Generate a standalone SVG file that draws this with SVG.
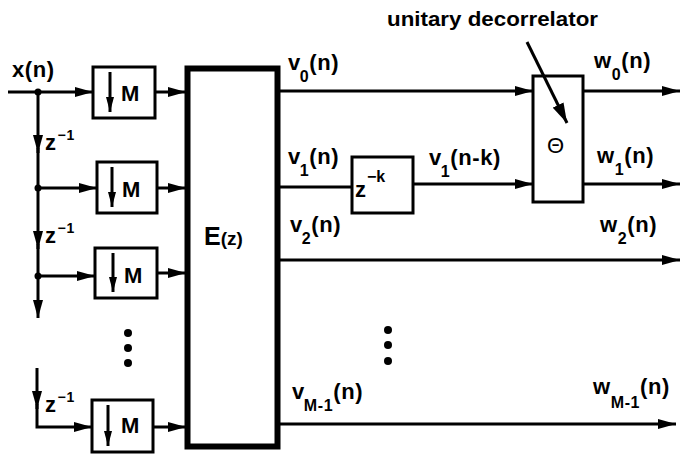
<svg xmlns="http://www.w3.org/2000/svg" width="681" height="455" viewBox="0 0 681 455">
<style>
.l{fill:none;stroke:#000;stroke-width:3}
.b{fill:#fff;stroke:#000;stroke-width:3}
text{font-family:"Liberation Sans",Arial,sans-serif;font-weight:bold;fill:#000}
.t{font-size:22px;letter-spacing:0.6px}
.s{font-size:16px}
.p{font-size:14px}
</style>
<defs>
<marker id="a" markerUnits="userSpaceOnUse" markerWidth="18" markerHeight="10" refX="18" refY="5" orient="auto"><path d="M0,0 L18,5 L0,10 z" fill="#000"/></marker>
<marker id="d" markerUnits="userSpaceOnUse" markerWidth="15" markerHeight="8" refX="15" refY="4" orient="auto"><path d="M0,0 L15,4 L0,8 z" fill="#000"/></marker>
<marker id="k" markerUnits="userSpaceOnUse" markerWidth="20" markerHeight="12" refX="20" refY="6" orient="auto"><path d="M0,0 L20,6 L0,12 z" fill="#000"/></marker>
</defs>
<rect width="681" height="455" fill="#fff"/>
<g id="connectors">
<path class="l" d="M8,92 H93" marker-end="url(#a)"/>
<path class="l" d="M38,92 V153" marker-end="url(#a)"/>
<path class="l" d="M38,148 V188"/>
<path class="l" d="M38,188 H97" marker-end="url(#a)"/>
<path class="l" d="M38,188 V249" marker-end="url(#a)"/>
<path class="l" d="M38,244 V276"/>
<path class="l" d="M38,276 H95" marker-end="url(#a)"/>
<path class="l" d="M38,276 V318" marker-end="url(#a)"/>
<path class="l" d="M37,368 V409" marker-end="url(#a)"/>
<path class="l" d="M37,404 V427 H92" marker-end="url(#a)"/>
<path class="l" d="M155,92 H186" marker-end="url(#a)"/>
<path class="l" d="M157,188 H186" marker-end="url(#a)"/>
<path class="l" d="M157,273 H186" marker-end="url(#a)"/>
<path class="l" d="M153,427 H186" marker-end="url(#a)"/>
<path class="l" d="M280,91 H533" marker-end="url(#a)"/>
<path class="l" d="M280,187 H352"/>
<path class="l" d="M413,184 H533" marker-end="url(#a)"/>
<path class="l" d="M583,91 H680" marker-end="url(#a)"/>
<path class="l" d="M583,184 H680" marker-end="url(#a)"/>
<path class="l" d="M280,260 H680" marker-end="url(#a)"/>
<path class="l" d="M280,424 H676" marker-end="url(#a)"/>
<circle cx="38" cy="92" r="3.5"/>
<circle cx="38" cy="188" r="3.5"/>
<circle cx="38" cy="276" r="3.5"/>
</g>
<g id="labels">
<text class="t" x="12" y="77">x(n)</text>
<text class="t" x="45" y="150">z<tspan class="p" dx="1" dy="-10">−1</tspan></text>
<text class="t" x="45" y="243">z<tspan class="p" dx="1" dy="-10">−1</tspan></text>
<text class="t" x="45" y="412">z<tspan class="p" dx="1" dy="-10">−1</tspan></text>
<text class="t" x="288" y="70">v<tspan class="s" dx="-1" dy="12">0</tspan><tspan dy="-12">(n)</tspan></text>
<text class="t" x="288" y="164">v<tspan class="s" dx="-1" dy="12">1</tspan><tspan dy="-12">(n)</tspan></text>
<text class="t" x="290" y="232">v<tspan class="s" dx="-1" dy="12">2</tspan><tspan dy="-12">(n)</tspan></text>
<text class="t" x="292" y="399">v<tspan class="s" dx="-1" dy="12">M-1</tspan><tspan dy="-12">(n)</tspan></text>
<text class="t" x="429" y="165">v<tspan class="s" dx="-1" dy="12">1</tspan><tspan dy="-12">(n-k)</tspan></text>
<text class="t" x="594" y="68">w<tspan class="s" dx="0" dy="12">0</tspan><tspan dy="-12">(n)</tspan></text>
<text class="t" x="597" y="163">w<tspan class="s" dx="0" dy="12">1</tspan><tspan dy="-12">(n)</tspan></text>
<text class="t" x="600" y="232">w<tspan class="s" dx="0" dy="12">2</tspan><tspan dy="-12">(n)</tspan></text>
<text class="t" x="593" y="394">w<tspan class="s" dx="0" dy="14">M-1</tspan><tspan dy="-14">(n)</tspan></text>
<text x="387" y="26" font-size="21" textLength="211" lengthAdjust="spacingAndGlyphs">unitary decorrelator</text>
<circle cx="128" cy="333" r="4"/><circle cx="128" cy="348" r="4"/><circle cx="128" cy="363" r="4"/>
<circle cx="388" cy="330" r="4"/><circle cx="388" cy="345" r="4"/><circle cx="388" cy="361" r="4"/>
</g>
<g id="down1"><rect class="b" x="93" y="67" width="62" height="51"/><path class="l" d="M110,72 V112" marker-end="url(#d)"/><text x="121" y="101" font-size="22">M</text></g>
<g id="down2"><rect class="b" x="97" y="162" width="60" height="51"/><path class="l" d="M112,167 V207" marker-end="url(#d)"/><text x="122" y="197" font-size="22">M</text></g>
<g id="down3"><rect class="b" x="95" y="248" width="62" height="50"/><path class="l" d="M113,253 V292" marker-end="url(#d)"/><text x="124" y="283" font-size="22">M</text></g>
<g id="down4"><rect class="b" x="92" y="400" width="61" height="52"/><path class="l" d="M108,405 V446" marker-end="url(#d)"/><text x="121" y="433" font-size="22">M</text></g>
<g id="E"><rect x="187.5" y="68.5" width="90" height="378" fill="#fff" stroke="#000" stroke-width="6"/><text x="204" y="245" font-size="25">E<tspan font-size="19">(z)</tspan></text></g>
<g id="delay"><rect class="b" x="352" y="157" width="61" height="56"/><text x="355" y="197" font-size="22">z<tspan font-size="16" dx="1" dy="-15">−k</tspan></text></g>
<g id="theta"><rect class="b" x="533" y="76" width="50" height="126"/><text x="547" y="153" font-size="22" font-weight="normal" style="font-weight:normal">Θ</text></g>
<g id="pointer"><path class="l" d="M527,42 L567,123" stroke-width="4" marker-end="url(#k)"/></g>
</svg>
